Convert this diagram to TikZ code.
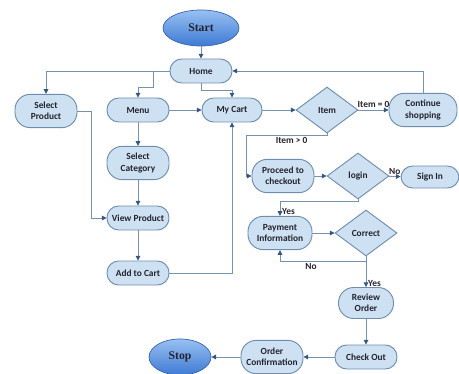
\documentclass[tikz,border=0pt]{standalone}
\usepackage{fontspec}
\setmainfont{Carlito}
\newfontfamily\termfont{Liberation Serif}
\usetikzlibrary{arrows.meta,shapes.geometric}

\definecolor{boxfill}{RGB}{206,225,243}
\definecolor{boxline}{RGB}{112,142,172}
\definecolor{flowline}{RGB}{118,146,172}
\definecolor{tipcol}{RGB}{52,88,128}
\definecolor{termtop}{RGB}{152,192,242}
\definecolor{termbot}{RGB}{62,122,212}
\definecolor{termline}{RGB}{60,100,170}
\definecolor{txt}{RGB}{35,35,45}

\begin{document}
\begin{tikzpicture}[x=0.03cm,y=-0.03cm,
	stepbox/.style={draw=boxline,fill=boxfill,rounded corners=10pt,line width=0.8pt,font=\footnotesize\bfseries,text=txt,align=center,inner sep=1pt,minimum width=1.86cm,minimum height=0.72cm},
	tallbox/.style={stepbox,rounded corners=13pt,minimum height=1cm},
	decision/.style={diamond,draw=boxline,fill=boxfill,line width=0.8pt,font=\footnotesize\bfseries,text=txt,inner sep=0pt,minimum width=1.86cm,minimum height=1.38cm},
	term/.style={ellipse,draw=termline,top color=termtop,bottom color=termbot,line width=0.6pt,font=\termfont\fontsize{10}{12}\selectfont\bfseries,text=txt},
	lbl/.style={font=\footnotesize\bfseries,text=txt,inner sep=1.5pt},
	arr/.style={draw=flowline,line width=0.8pt,-{Triangle[length=4pt,width=4pt,color=tipcol]}}]
	
	\useasboundingbox (0,0) rectangle (459,374);
	
	% start and home
	\node[term,minimum width=2.28cm,minimum height=1.08cm] (start) at (201,28) {Start};
	\node[stepbox] (home) at (201,71) {Home};
	
	% first row
	\node[tallbox] (selprod) at (46,111) {Select\\Product};
	\node[stepbox] (menu) at (138,110) {Menu};
	\node[stepbox,minimum width=1.8cm] (cart) at (232,110) {My Cart};
	\node[decision] (item) at (327,110) {Item};
	\node[tallbox,minimum width=2.04cm] (cont) at (423,110) {Continue\\shopping};
	
	% left column
	\node[tallbox] (selcat) at (138,163) {Select\\Category};
	\node[stepbox] (view) at (138,218) {View Product};
	\node[stepbox] (add) at (138,273) {Add to Cart};
	
	% checkout part
	\node[tallbox] (proceed) at (283,176) {Proceed to\\checkout};
	\node[decision] (login) at (358,176) {login};
	\node[stepbox,minimum width=1.74cm,minimum height=0.66cm] (signin) at (430,177) {Sign In};
	\node[tallbox,minimum width=1.92cm] (pay) at (280,233) {Payment\\Information};
	\node[decision] (correct) at (366,233) {Correct};
	\node[tallbox,minimum width=1.65cm,minimum height=0.93cm] (review) at (366,303) {Review\\Order};
	\node[stepbox] (checkout) at (366,357) {Check Out};
	\node[tallbox] (confirm) at (272,357) {Order\\Confirmation};
	\node[term,minimum width=1.86cm,minimum height=1.08cm] (stop) at (180,357) {Stop};
	
	% from start and home
	\draw[arr] (start) -- (home);
	\draw[arr] (home.west) -| (selprod.north);
	\draw[arr] ([xshift=-0.48cm]home.west) -- ++(0,-0.48cm) -| (menu.north);
	\draw[arr] (home.south) -- ++(0,-0.2cm) -| (cart.north);
	\draw[arr] (cont.north) |- (home.east);
	
	% browsing
	\draw[arr] (menu) -- (cart);
	\draw[arr] (menu) -- (selcat);
	\draw[arr] (selcat) -- (view);
	\draw[arr] (view) -- (add);
	\draw[arr] (selprod.east) -- ++(0.42cm,0) |- (view.west);
	\draw[arr] (add.east) -| (cart.south);
	
	% cart and item check
	\draw[arr] (cart) -- (item);
	\draw[arr] (item) -- (cont) node[lbl,midway,above] {Item = 0};
	\draw[arr] (item.south) -- ++(0,-0.06cm) -| node[lbl,below,pos=0.22] {Item > 0} ([xshift=-0.15cm]proceed.west) -- (proceed.west);
	
	% login and payment
	\draw[arr] (proceed) -- (login);
	\draw[arr] (login) -- (signin) node[lbl,midway,above] {No};
	\draw[arr] (login.south) -- ++(0,-0.06cm) -| node[lbl,right,pos=0.85] {Yes} (pay.north);
	\draw[arr] (pay) -- (correct);
	\draw[arr] (correct.south) -- ++(0,-0.15cm) -| node[lbl,below,pos=0.32] {No} (pay.south);
	\draw[arr] (correct.south) -- (review.north) node[lbl,right,pos=0.88] {Yes};
	
	% finishing
	\draw[arr] (review) -- (checkout);
	\draw[arr] (checkout) -- (confirm);
	\draw[arr] (confirm) -- (stop);
	
\end{tikzpicture}
\end{document}
